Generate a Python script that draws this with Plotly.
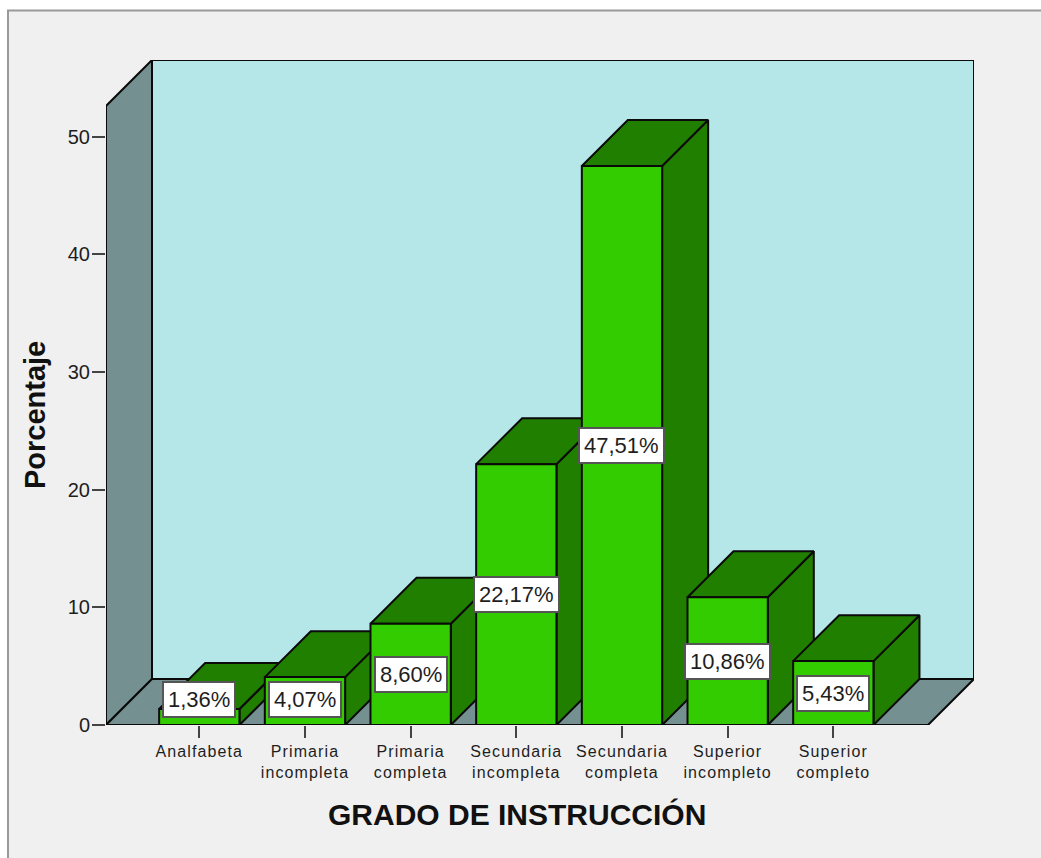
import plotly.graph_objects as go

categories = ["Analfabeta", "Primaria<br>incompleta", "Primaria<br>completa",
              "Secundaria<br>incompleta", "Secundaria<br>completa",
              "Superior<br>incompleto", "Superior<br>completo"]
values = [1.36, 4.07, 8.60, 22.17, 47.51, 10.86, 5.43]
bar_labels = ["1,36%", "4,07%", "8,60%", "22,17%", "47,51%", "10,86%", "5,43%"]
y_ticks = [0, 10, 20, 30, 40, 50]

W, H = 1041, 858
L, R, T, B = 106, 974, 59.5, 725.3
X0, PX_X = 199.3, 105.67
PX_Y = 11.78
BAR_W = 0.76
DX, DY = 46 / PX_X, 46 / PX_Y

x_min, x_max = (L - X0) / PX_X, (R - X0) / PX_X
y_max = (B - T) / PX_Y

FRONT = "#33CC00"
DARK = "#217F00"
WALL = "#749090"
BACK = "#B5E6E8"
EDGE = "#0A0A0A"
BG = "#F0F0F0"
TXT = "#1E1E1E"

fig = go.Figure()

def poly(xs, ys, color):
    fig.add_trace(go.Scatter(
        x=xs + xs[:1], y=ys + ys[:1], mode="lines", fill="toself", fillcolor=color,
        line=dict(color=EDGE, width=2), cliponaxis=False, hoverinfo="skip", showlegend=False))

# walls
back_x0, back_x1 = x_min + DX, x_max
front_x1 = x_max - DX
wall_top_back = y_max
wall_top_front = y_max - DY
poly([back_x0, back_x1, back_x1, back_x0], [DY, DY, wall_top_back, wall_top_back], BACK)
poly([x_min, back_x0, back_x0, x_min], [0, DY, wall_top_back, wall_top_front], WALL)
poly([x_min, back_x0, back_x1, front_x1], [0, DY, DY, 0], WALL)

# side and top faces, left to right
idx = list(range(len(values)))
for i, v in zip(idx, values):
    l, r = i - BAR_W / 2, i + BAR_W / 2
    poly([r, r + DX, r + DX, r], [0, DY, v + DY, v], DARK)
    poly([l, r, r + DX, l + DX], [v, v, v + DY, v + DY], DARK)

# front faces on an overlaid axis pair, so they sit above all the side faces
fig.add_trace(go.Bar(
    x=idx, y=values, width=BAR_W, xaxis="x2", yaxis="y2",
    marker=dict(color=FRONT, line=dict(color=EDGE, width=2)),
    hoverinfo="skip", showlegend=False))

annotations = []
for i, v, t in zip(idx, values, bar_labels):
    annotations.append(dict(
        x=i, y=max(v / 2, 2.17), xref="x", yref="y", text=t, showarrow=False,
        xanchor="center", yanchor="middle",
        font=dict(family="Liberation Sans", size=22, color=TXT),
        bgcolor="white", bordercolor="#555555", borderwidth=2, borderpad=4))

plot_w, plot_h = R - L, B - T
annotations.append(dict(
    x=(517 - L) / plot_w, y=(B - 815) / plot_h, xref="paper", yref="paper",
    text="<b>GRADO DE INSTRUCCIÓN</b>", showarrow=False, xanchor="center", yanchor="middle",
    font=dict(family="Liberation Sans", size=30, color="#111111")))
annotations.append(dict(
    x=(35 - L) / plot_w, y=(B - 415) / plot_h, xref="paper", yref="paper",
    text="<b>Porcentaje</b>", textangle=-90, showarrow=False, xanchor="center", yanchor="middle",
    font=dict(family="Liberation Sans", size=29, color="#111111")))

frame = dict(
    type="rect", xref="paper", yref="paper", layer="below",
    x0=(8 - L) / plot_w, x1=(W + 10 - L) / plot_w,
    y0=(B - H - 10) / plot_h, y1=(B - 10) / plot_h,
    fillcolor=BG, line=dict(color="#999999", width=2))

fig.update_layout(
    width=W, height=H, autosize=False,
    margin=dict(l=L, r=W - R, t=T, b=H - B, pad=0),
    paper_bgcolor="white", plot_bgcolor="rgba(0,0,0,0)",
    showlegend=False, hovermode=False, shapes=[frame], annotations=annotations,
    xaxis=dict(range=[x_min, x_max], tickmode="array", tickvals=idx, ticktext=categories,
               ticks="outside", ticklen=12, tickwidth=2, tickcolor="#444444",
               showgrid=False, zeroline=False, showline=False,
               tickfont=dict(family="Liberation Sans", size=16, color=TXT)),
    yaxis=dict(range=[0, y_max], tickmode="array", tickvals=y_ticks,
               ticks="outside", ticklen=13, tickwidth=2, tickcolor="#444444",
               ticklabelstandoff=-2,
               showgrid=False, zeroline=False, showline=False,
               tickfont=dict(family="Liberation Sans", size=20, color=TXT)),
    xaxis2=dict(range=[x_min, x_max], overlaying="x", visible=False),
    yaxis2=dict(range=[0, y_max], overlaying="y", visible=False),
)

post = """
document.body.style.margin='0';
document.documentElement.style.overflow='hidden';
var s=document.createElement('style');
s.textContent='.xtick text{letter-spacing:1.1px;}';
document.head.appendChild(s);
"""
fig.write_html("out.html", post_script=post, config={"displayModeBar": False})
